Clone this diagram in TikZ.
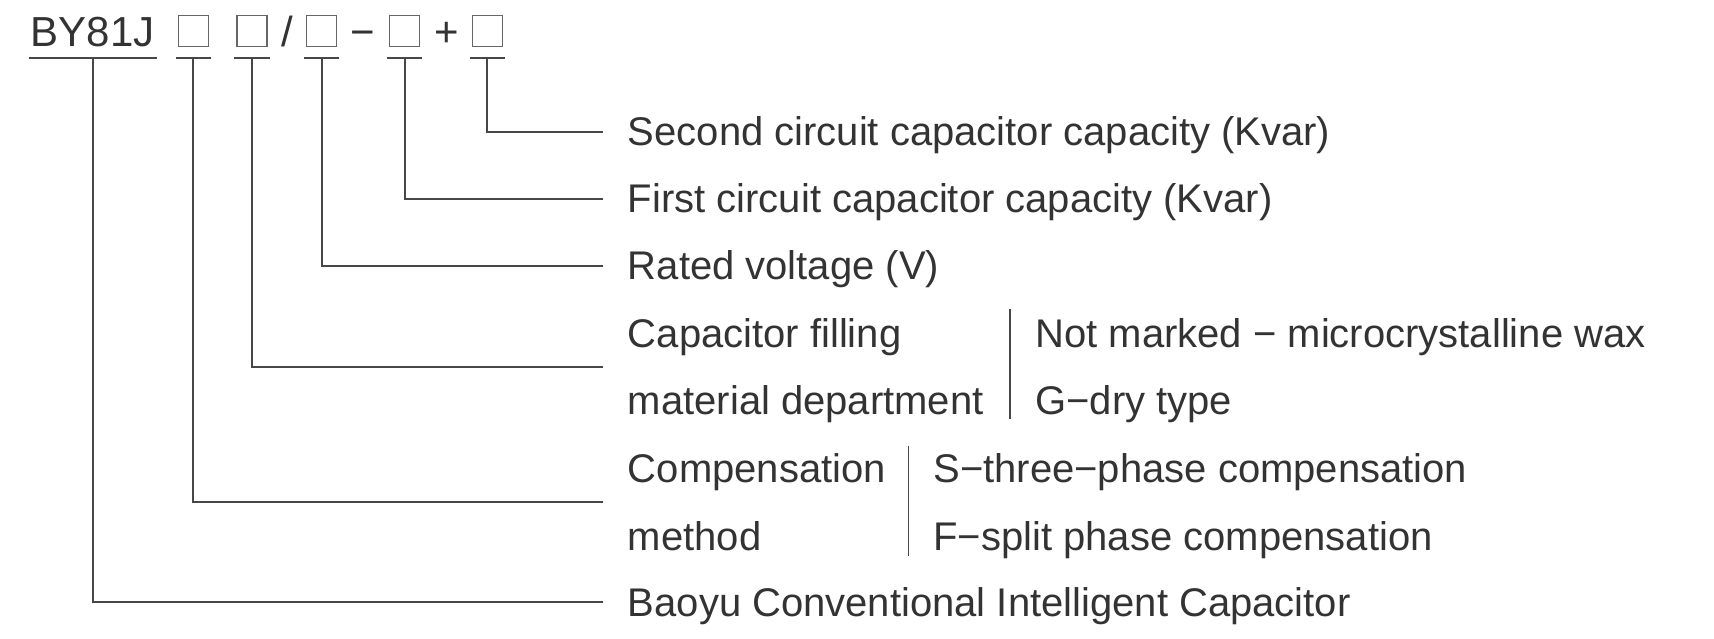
\documentclass[tikz,border=0pt]{standalone}
\usepackage{fontspec}
\setmainfont{Liberation Sans}
\usetikzlibrary{calc}

\begin{document}
\begin{tikzpicture}[
		x=0.5pt, y=-0.5pt,
		font=\fontsize{20}{34}\selectfont,
		every node/.style={text=black!80},
		label/.style={anchor=west, inner xsep=12.5pt, inner ysep=0pt, text height=14pt, text depth=0pt},
		item/.style={anchor=west, inner sep=0pt, text height=14pt, text depth=0pt},
		codebox/.style={draw=black!60, line width=0.6pt, minimum width=15pt, minimum height=15.5pt, inner sep=0pt},
		sign/.style={inner sep=0pt, anchor=base, font=\fontsize{21}{21}\selectfont},
		link/.style={draw=black!72, line width=1pt}
		]
		\useasboundingbox (0,0) rectangle (1714,638);
		
		% Model code
		\node (code) [anchor=base west, inner xsep=0.75pt, inner ysep=5.5pt, text depth=0pt,
		font=\fontsize{21}{21}\selectfont] at (29,46.7) {BY81J};
		\foreach \n/\x in {1/193.3, 2/252, 3/321.5, 4/404.5, 5/487.3}
		\node (b\n) [codebox] at (\x,31.2) {};
		\node (slash) [sign] at (287,46.7) {/};
		\node (minus) [sign] at (362.5,46.7) {−};
		\node (plus) [sign] at (446.5,46.7) {+};
		
		% Underlines
		\draw[link] (code.south west) -- (code.south east);
		\foreach \n in {1,...,5}
		\draw[link] ([shift={(-2,11)}]b\n.south west) -- ([shift={(2,11)}]b\n.south east);
		
		% Meanings
		\node (cap2) [label] at (602.5,131.5) {Second circuit capacitor capacity (Kvar)};
		\node (cap1) [label] at (602.5,198.5) {First circuit capacitor capacity (Kvar)};
		\node (volt) [label] at (602.5,265.5) {Rated voltage (V)};
		\node (fill) [label] at (602.5,333) {Capacitor filling};
		\node (fillb) [label] at (602.5,400) {material department};
		\node (comp) [label] at (602.5,468) {Compensation};
		\node (compb) [label] at (602.5,536) {method};
		\node (brand) [label] at (602.5,602) {Baoyu Conventional Intelligent Capacitor};
		
		% Options
		\node (wax) [item] at (1035,333) {Not marked − microcrystalline wax};
		\node (dry) [item] at (1035,400) {G−dry type};
		\node (three) [item] at (933,468) {S−three−phase compensation};
		\node (split) [item] at (933,536) {F−split phase compensation};
		\draw[link, line width=0.8pt] (1010,309) -- (1010,419);
		\draw[link, line width=0.8pt] (908.5,446) -- (908.5,556);
		
		% Leaders
		\draw[link] ([yshift=-5.5pt]b5.south) |- (cap2.west);
		\draw[link] ([yshift=-5.5pt]b4.south) |- (cap1.west);
		\draw[link] ([yshift=-5.5pt]b3.south) |- (volt.west);
		\draw[link] ([yshift=-5.5pt]b2.south) |- ($(fill.west)!0.5!(fillb.west)$);
		\draw[link] ([yshift=-5.5pt]b1.south) |- ($(comp.west)!0.5!(compb.west)$);
		\draw[link] (code.south) |- (brand.west);
		
	\end{tikzpicture}
\end{document}
